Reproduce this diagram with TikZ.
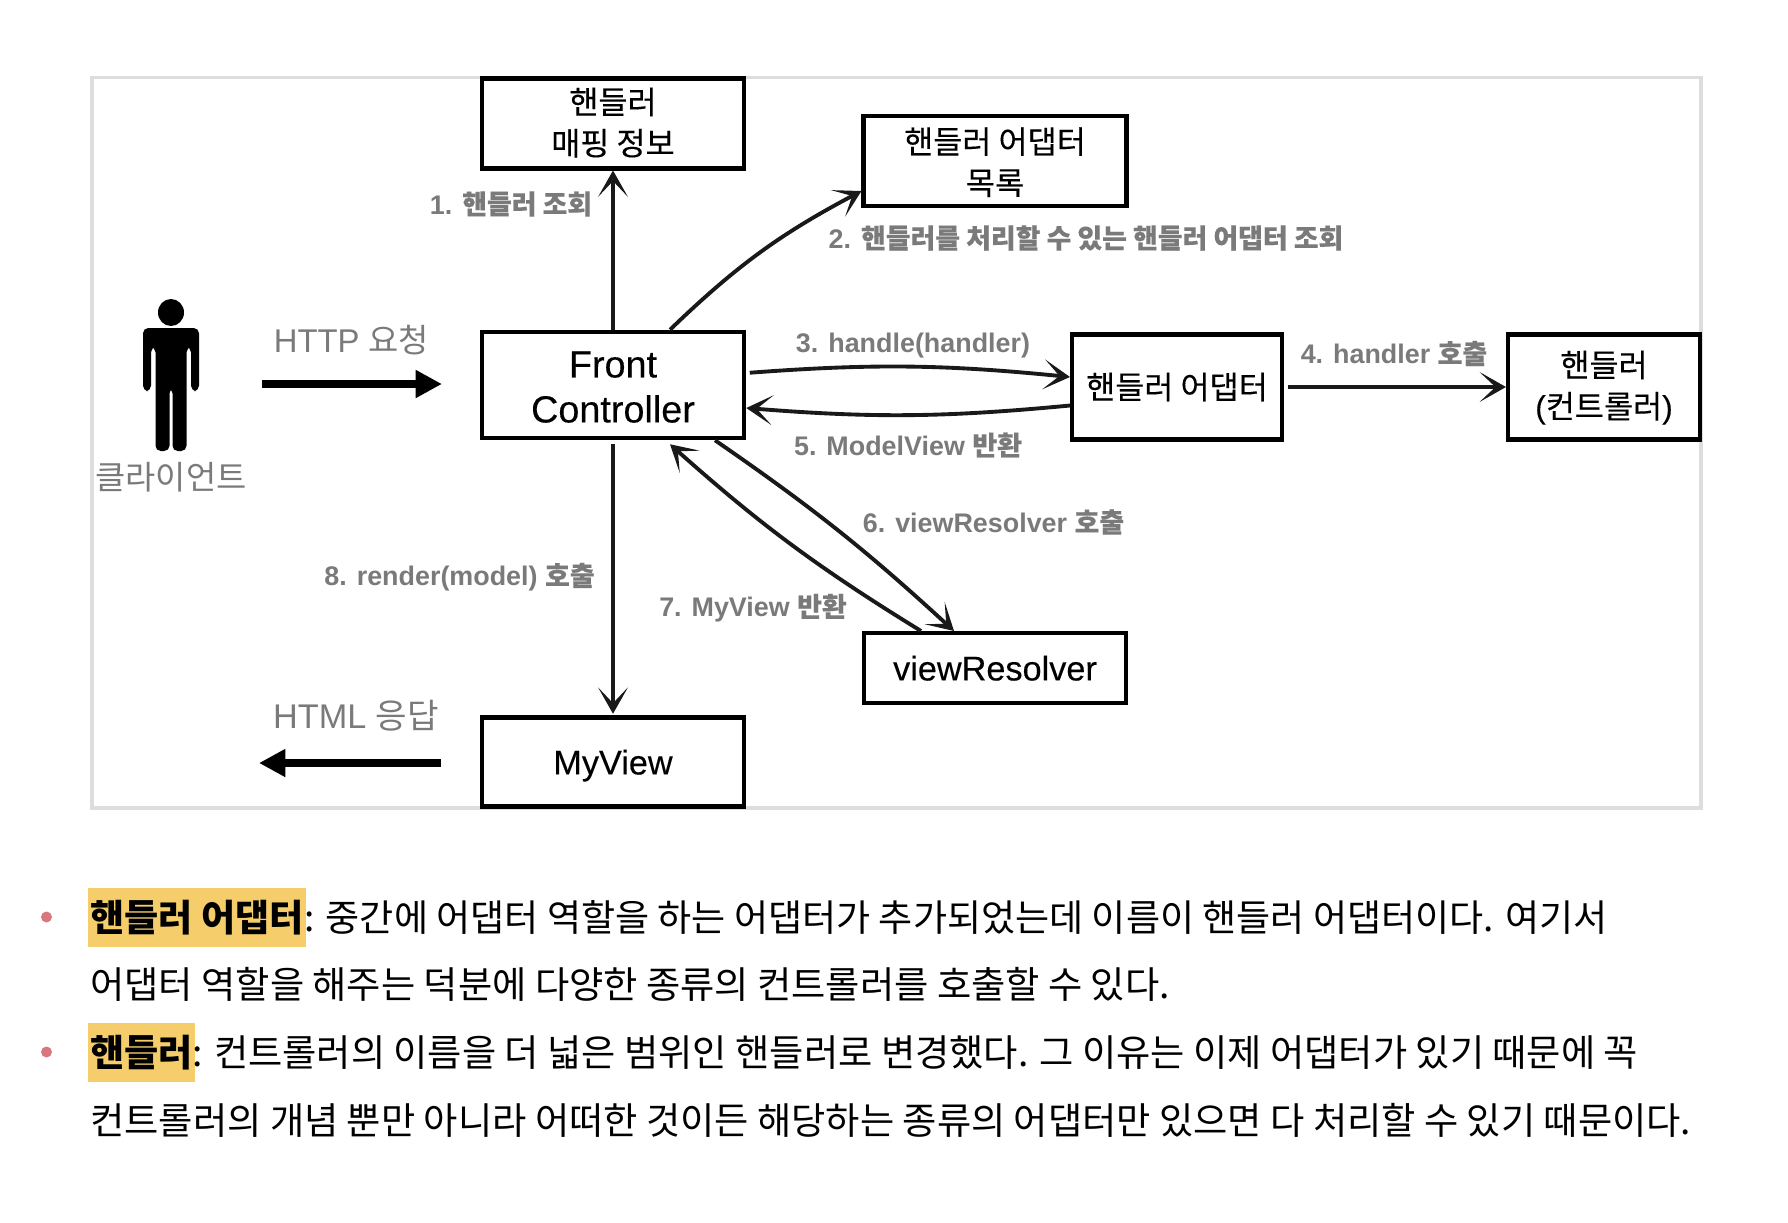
\documentclass[tikz,border=0pt]{standalone}
\usepackage{fontspec}
\usepackage{xcolor}
\setmainfont{Liberation Sans}
\newfontfamily\krfont{Noto Sans CJK KR}
\newfontfamily\krmedium[FakeBold=0.25]{Noto Sans CJK KR}
\newfontfamily\enmedium[FakeBold=0.25]{Liberation Sans}
\newcommand{\ko}[1]{{\krfont #1}}
\newcommand{\kom}[1]{{\krmedium #1}}
\definecolor{labelgray}{HTML}{7A7A7A}
\definecolor{framegray}{HTML}{DDDDDD}
\definecolor{markyellow}{HTML}{F5CE6B}
\definecolor{bulletred}{HTML}{D9777F}
\usetikzlibrary{arrows.meta,positioning}

\begin{document}
\begin{tikzpicture}[>={Stealth[length=15pt,width=17pt,inset=9pt]},
    box/.style={draw, fill=white, line width=2.3pt, align=center, minimum width=5.25cm, text depth=0pt, font=\fontsize{18}{23.5}\selectfont},
    engbox/.style={box, font=\fontsize{19.5}{25}\selectfont\enmedium},
    flow/.style={->, line width=2.2pt, black!90},
    bigflow/.style={-{Triangle[length=15pt,width=15pt]}, line width=4pt},
    steplabel/.style={text=labelgray, font=\fontsize{15.3}{18}\selectfont\bfseries},
    sidelabel/.style={text=labelgray, font=\fontsize{18.7}{22}\selectfont},
    bodytext/.style={inner sep=0pt, text height=20pt, text depth=4pt, font=\fontsize{21.1}{24}\selectfont\krfont},
    widetext/.style={bodytext, font=\fontsize{21.2}{24}\selectfont\krfont},
    marktext/.style={bodytext, fill=markyellow, anchor=west, minimum height=1.18cm, font=\fontsize{21.1}{24}\selectfont\krfont\bfseries},
    dotmark/.style={circle, fill=bulletred, inner sep=0pt, minimum size=0.22cm}]

    \useasboundingbox (0,0) rectangle (35.76,-24.44);
    \draw[framegray, line width=1.8pt] (1.84,-1.55) rectangle (34.02,-16.16);

    % person
    \fill (3.42,-6.25) ellipse (0.26 and 0.27);
    \fill[rounded corners=3pt] (2.86,-7.82) -- (2.86,-6.56) -- (3.98,-6.56) -- (3.98,-7.82) -- (3.82,-7.82) -- (3.82,-6.94) -- (3.73,-6.94) -- (3.73,-9.02) -- (3.45,-9.02) -- (3.45,-7.76) -- (3.39,-7.76) -- (3.39,-9.02) -- (3.11,-9.02) -- (3.11,-6.94) -- (3.02,-6.94) -- (3.02,-7.82) -- cycle;
    \node[sidelabel] (client) at (3.42,-9.54) {\ko{클라이언트}};

    \node[box, minimum height=1.8cm, text depth=2.5pt] (mapping) at (12.26,-2.47) {\kom{핸들러}\\\kom{매핑 정보}};
    \node[box, minimum width=5.26cm, minimum height=1.8cm] (adapterlist) at (19.9,-3.22) {\kom{핸들러 어댑터}\\\kom{목록}};
    \node[engbox, minimum height=2.13cm, font=\fontsize{21.5}{25.6}\selectfont\enmedium] (front) at (12.26,-7.70) {\rule{0pt}{17pt}Front\\Controller};
    \node[box, minimum width=4.2cm, minimum height=2.1cm, text depth=1.5pt] (adapter) at (23.54,-7.74) {\kom{핸들러 어댑터}};
    \node[box, minimum width=3.84cm, minimum height=2.1cm, text depth=3pt] (handler) at (32.08,-7.74) {\kom{핸들러}\\{\enmedium(}\kom{컨트롤러}{\enmedium)}};
    \node[engbox, minimum height=1.4cm] (resolver) at (19.9,-13.36) {viewResolver};
    \node[engbox, minimum height=1.78cm] (myview) at (12.26,-15.24) {MyView};

    \node[sidelabel] (httplabel) at (7.03,-6.80) {HTTP \ko{요청}};
    \node[sidelabel, font=\fontsize{19.5}{22}\selectfont] (htmllabel) at (7.12,-14.32) {HTML \ko{응답}};
    \node[steplabel] (l1) at (10.22,-4.08) {1. \kom{핸들러 조회}};
    \node[steplabel] (l2) at (21.72,-4.76) {2. \kom{핸들러를 처리할 수 있는 핸들러 어댑터 조회}};
    \node[steplabel] (l3) at (18.26,-6.92) {3. handle(handler)};
    \node[steplabel] (l4) at (27.88,-7.07) {4. handler \kom{호출}};
    \node[steplabel] (l5) at (18.16,-8.90) {5. ModelView \kom{반환}};
    \node[steplabel] (l6) at (19.87,-10.44) {6. viewResolver \kom{호출}};
    \node[steplabel] (l7) at (15.06,-12.16) {7. MyView \kom{반환}};
    \node[steplabel] (l8) at (9.19,-11.54) {8. render(model) \kom{호출}};

    \coordinate (reqstart) at (5.24,-7.68);
    \coordinate (reqend) at (8.84,-7.68);
    \coordinate (respstart) at (8.82,-15.26);
    \coordinate (respend) at (5.18,-15.26);
    \draw[bigflow] (reqstart) -- (reqend);
    \draw[bigflow] (respstart) -- (respend);

    \draw[flow] (front.north) -- (mapping.south);
    \draw[flow] ([xshift=1.14cm]front.north) to[bend left=8] ([yshift=-0.6cm]adapterlist.west);
    \draw[flow, shorten <=2pt] ([yshift=0.24cm]front.east) to[bend left=5] ([yshift=0.2cm]adapter.west);
    \draw[flow, shorten <=2pt] (adapter.east) -- (handler.west);
    \draw[flow] ([yshift=-0.37cm]adapter.west) to[bend left=5] ([yshift=-0.46cm]front.east);
    \draw[flow] ([xshift=2.04cm]front.south) to[bend left=4] ([xshift=-0.82cm]resolver.north);
    \draw[flow] ([xshift=-1.48cm]resolver.north) to[bend left=5] ([xshift=1.14cm,yshift=-0.08cm]front.south);
    \draw[flow, shorten <=2pt, shorten >=1pt] (front.south) -- (myview.north);

    \node[dotmark] (dot1) at (0.93,-18.34) {};
    \node[marktext, minimum width=4.36cm] (mark1) at (1.76,-18.35) {핸들러 어댑터};
    \node[bodytext, right=-1.5pt of mark1] (line1) {: 중간에 어댑터 역할을 하는 어댑터가 추가되었는데 이름이 핸들러 어댑터이다. 여기서};
    \node[widetext, anchor=west] (line2) at (1.80,-19.68) {어댑터 역할을 해주는 덕분에 다양한 종류의 컨트롤러를 호출할 수 있다.};
    \node[dotmark] (dot2) at (0.93,-21.04) {};
    \node[marktext, minimum width=2.14cm] (mark2) at (1.76,-21.05) {핸들러};
    \node[widetext, right=-2pt of mark2] (line3) {: 컨트롤러의 이름을 더 넓은 범위인 핸들러로 변경했다. 그 이유는 이제 어댑터가 있기 때문에 꼭};
    \node[widetext, anchor=west] (line4) at (1.80,-22.40) {컨트롤러의 개념 뿐만 아니라 어떠한 것이든 해당하는 종류의 어댑터만 있으면 다 처리할 수 있기 때문이다.};
  \end{tikzpicture}
\end{document}
